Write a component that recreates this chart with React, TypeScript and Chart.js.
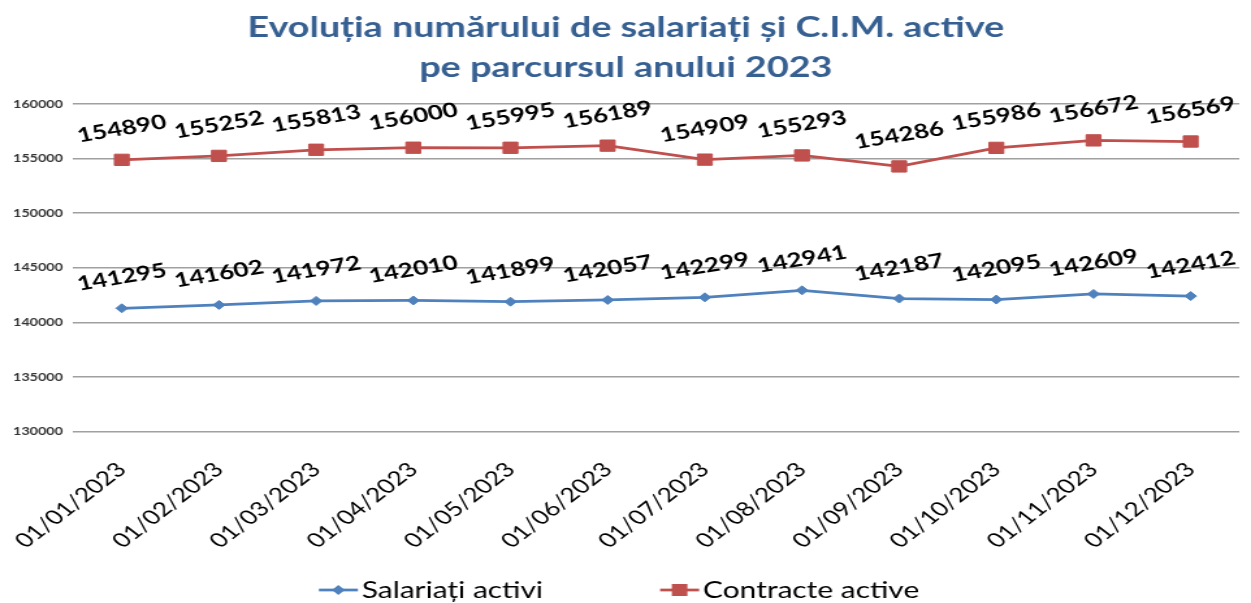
import { useEffect, useRef } from "react";
import { Chart, registerables } from "chart.js";

Chart.register(...registerables);

const categories = [
  "01/01/2023", "01/02/2023", "01/03/2023", "01/04/2023", "01/05/2023", "01/06/2023",
  "01/07/2023", "01/08/2023", "01/09/2023", "01/10/2023", "01/11/2023", "01/12/2023",
];
const salariatiActivi = [141295, 141602, 141972, 142010, 141899, 142057, 142299, 142941, 142187, 142095, 142609, 142412];
const contracteActive = [154890, 155252, 155813, 156000, 155995, 156189, 154909, 155293, 154286, 155986, 156672, 156569];
const seriesNames = ["Salariați activi", "Contracte active"];
const titleLines = ["Evoluția numărului de salariați și C.I.M. active", "pe parcursul anului 2023"];
const yMin = 130000;
const yMax = 160000;
const yStep = 5000;

const BLUE = "#4F81BD";
const RED = "#C0504D";
const CANVAS_W = 962;
const CANVAS_H = 603;
const DISPLAY_W = 1251;

const dataLabelPlugin = {
  id: "dataLabels",
  afterDatasetsDraw(chart: any) {
    const ctx = chart.ctx;
    ctx.save();
    ctx.font = "bold 20px Lato";
    ctx.fillStyle = "#000";
    ctx.textAlign = "center";
    ctx.textBaseline = "middle";
    chart.data.datasets.forEach((ds: any, di: number) => {
      const meta = chart.getDatasetMeta(di);
      meta.data.forEach((pt: any, i: number) => {
        ctx.save();
        ctx.translate(pt.x, pt.y - 31);
        ctx.rotate((-12 * Math.PI) / 180);
        ctx.fillText(String(ds.data[i]), 0, 0);
        ctx.restore();
      });
    });
    ctx.restore();
  },
};

const legendPlugin = {
  id: "customLegend",
  afterDraw(chart: any) {
    const ctx = chart.ctx;
    ctx.save();
    ctx.font = "23px Lato";
    ctx.textBaseline = "middle";
    ctx.textAlign = "left";
    const y = chart.height - 13;
    const lineW = 30;
    const textGap = 3;
    const itemGap = 90;
    const widths = chart.data.datasets.map((ds: any) => ctx.measureText(ds.label).width);
    let total = 0;
    widths.forEach((w: number, i: number) => {
      total += lineW + textGap + w + (i < widths.length - 1 ? itemGap : 0);
    });
    let x = (chart.width - total) / 2 - 5;
    chart.data.datasets.forEach((ds: any, i: number) => {
      ctx.strokeStyle = ds.borderColor;
      ctx.lineWidth = 2.75;
      ctx.beginPath();
      ctx.moveTo(x, y);
      ctx.lineTo(x + lineW, y);
      ctx.stroke();
      const cx = x + lineW / 2;
      ctx.fillStyle = ds.pointBackgroundColor;
      ctx.beginPath();
      if (ds.pointStyle === "rectRot") {
        const r = 5;
        ctx.moveTo(cx, y - r);
        ctx.lineTo(cx + r, y);
        ctx.lineTo(cx, y + r);
        ctx.lineTo(cx - r, y);
        ctx.closePath();
      } else {
        const s = 6;
        ctx.rect(cx - s, y - s, 2 * s, 2 * s);
      }
      ctx.fill();
      ctx.fillStyle = "#000";
      ctx.fillText(ds.label, x + lineW + textGap, y + 1);
      x += lineW + textGap + widths[i] + itemGap;
    });
    ctx.restore();
  },
};

export default function App() {
  const canvasRef = useRef<HTMLCanvasElement | null>(null);

  useEffect(() => {
    document.body.style.margin = "0";
    const canvas = canvasRef.current;
    if (!canvas) return;
    const chart = new Chart(canvas, {
      type: "line",
      data: {
        labels: categories,
        datasets: [
          {
            label: seriesNames[0],
            data: salariatiActivi,
            borderColor: BLUE,
            backgroundColor: BLUE,
            pointBackgroundColor: BLUE,
            pointBorderColor: BLUE,
            pointStyle: "rectRot",
            pointRadius: 4.5,
            pointBorderWidth: 1,
            borderWidth: 2.75,
            tension: 0,
          },
          {
            label: seriesNames[1],
            data: contracteActive,
            borderColor: RED,
            backgroundColor: RED,
            pointBackgroundColor: RED,
            pointBorderColor: RED,
            pointStyle: "rect",
            pointRadius: 8,
            pointBorderWidth: 1,
            borderWidth: 2.75,
            tension: 0,
          },
        ],
      },
      options: {
        responsive: false,
        animation: false,
        devicePixelRatio: 1,
        layout: { padding: { left: 2, right: 1.5, top: 0, bottom: 32 } },
        plugins: {
          legend: { display: false },
          tooltip: { enabled: false },
          title: {
            display: true,
            text: titleLines,
            color: "#376092",
            font: { family: "Lato", size: 29, weight: "bold", lineHeight: 1.38 },
            padding: { top: 8, bottom: 16 },
          },
        },
        scales: {
          x: {
            type: "category",
            offset: true,
            grid: { display: false },
            border: { display: false },
            afterFit: (scale: any) => {
              scale.paddingLeft = 0;
              scale.paddingRight = 0;
            },
            ticks: {
              autoSkip: false,
              minRotation: 45,
              maxRotation: 45,
              padding: 18,
              color: "#000",
              font: { family: "Lato", size: 20 },
            },
          },
          y: {
            min: yMin,
            max: yMax,
            border: { display: false },
            grid: { color: "#a0a0a0", lineWidth: 1.5, drawTicks: false },
            ticks: {
              stepSize: yStep,
              padding: 8,
              color: "#333",
              font: { family: "Lato", size: 11, weight: "bold" },
              callback: (v: any) => String(v),
            },
          },
        },
      },
      plugins: [dataLabelPlugin, legendPlugin],
    });
    return () => chart.destroy();
  }, []);

  return (
    <canvas
      ref={canvasRef}
      width={CANVAS_W}
      height={CANVAS_H}
      style={{ width: `${DISPLAY_W}px`, height: `${CANVAS_H}px`, display: "block" }}
    />
  );
}
